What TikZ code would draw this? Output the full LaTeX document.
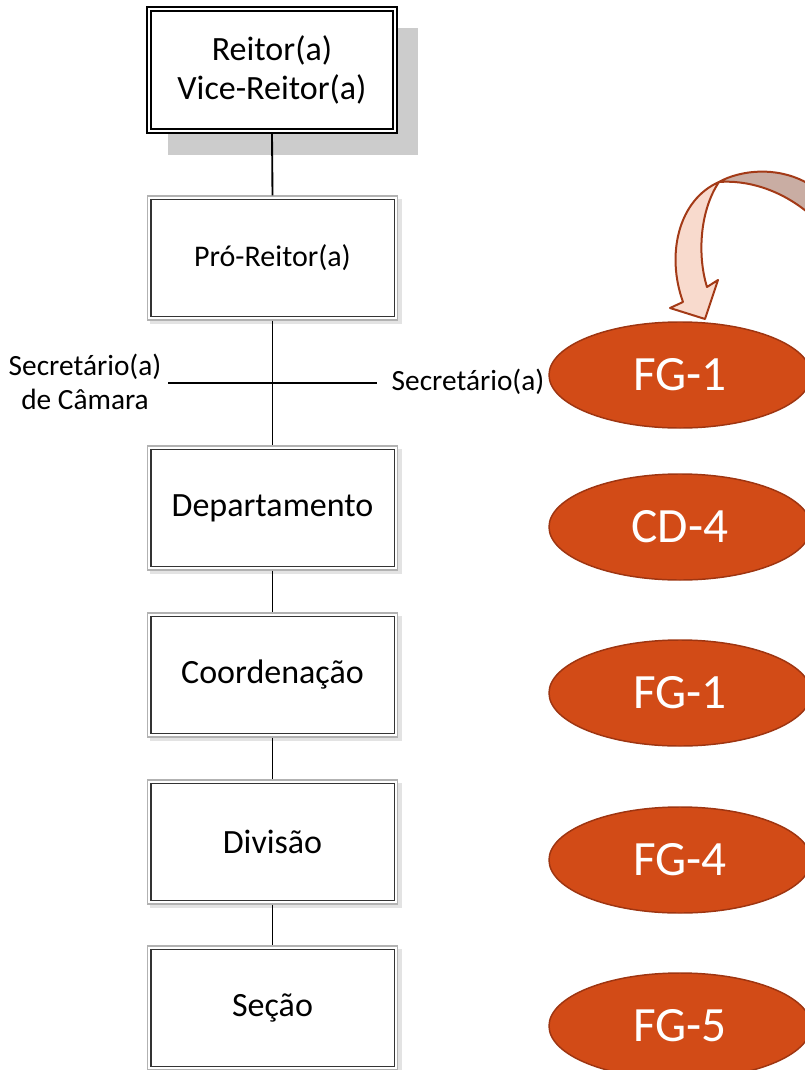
\documentclass[tikz,border=0pt]{standalone}
\usepackage{fontspec}
\setmainfont{Carlito}
\usetikzlibrary{shapes.geometric,backgrounds}
\definecolor{ellfill}{HTML}{D24B17}
\definecolor{elldraw}{HTML}{9E3511}
\definecolor{arrfront}{HTML}{F8DACD}
\definecolor{arrback}{HTML}{C9ADA3}
\definecolor{arrline}{HTML}{A33A17}
\definecolor{shadowgray}{HTML}{CCCCCC}
\begin{document}
\begin{tikzpicture}[x=0.75pt,y=-0.75pt,
  boxbase/.style={draw, fill=white, minimum width=187.5pt, minimum height=93pt, inner sep=0pt, align=center},
  topbox/.style={boxbase, draw=black, line width=1.5pt, minimum height=94.5pt, font=\fontsize{25.5}{29}\selectfont},
  orgbox/.style={boxbase, draw=gray!60, line width=1pt, font=\fontsize{25.5}{29}\selectfont},
  innerbox/.style={draw=gray!40!black, line width=1pt},
  conn/.style={draw=black, line width=1.4pt},
  grade/.style={ellipse, fill=ellfill, draw=elldraw, line width=1.1pt, minimum width=196.5pt, minimum height=79.5pt, inner sep=0pt, text=white, font=\fontsize{37}{37}\selectfont},
  lbl/.style={font=\fontsize{22}{26}\selectfont, align=center, inner sep=0pt},
  arr/.style={draw=arrline, line width=1.5pt, line join=round}
]
\useasboundingbox (0,0) rectangle (805,1070);
\clip (0,0) rectangle (805,1070);

% top box with shadow
\fill[shadowgray] (168,28) rectangle (418,155);
\node[topbox] (rei) at (272,70) {Reitor(a)\\Vice-Reitor(a)};
\draw[line width=1.3pt] ([shift={(4pt,-4pt)}]rei.north west) rectangle ([shift={(-4pt,4pt)}]rei.south east);

% chain of boxes
\node[orgbox, font=\fontsize{22.5}{26}\selectfont] (pro) at (272.5,258) {Pró-Reitor(a)};
\node[orgbox] (dep) at (272.5,508) {Departamento};
\node[orgbox] (coo) at (272.5,675) {Coordenação};
\node[orgbox] (div) at (272.5,842) {Divisão};
\node[orgbox] (sec) at (272.5,1008) {Seção};
\foreach \n in {pro,dep,coo,div,sec}
  \draw[innerbox] ([shift={(3pt,-3pt)}]\n.north west) rectangle ([shift={(-3pt,3pt)}]\n.south east);
\begin{scope}[on background layer]
\foreach \n in {pro,dep,coo,div,sec}
  \fill[gray!22] ([shift={(2.5pt,-2.5pt)}]\n.north west) rectangle ([shift={(2.5pt,-2.5pt)}]\n.south east);
\end{scope}

% connectors
\draw[conn] (rei.south) -- (pro.north);
\draw[conn] (pro.south) -- (dep.north);
\draw[conn] (dep.south) -- (coo.north);
\draw[conn] (coo.south) -- (div.north);
\draw[conn] (div.south) -- (sec.north);

% secretaries
\node[lbl] (secL) at (85,382) {Secretário(a)\\de Câmara};
\node[lbl] (secR) at (468,382) {Secretário(a)};
\coordinate (hl) at (168,383);
\coordinate (hr) at (377,383);
\draw[conn] (hl) -- (hr);

% grades
\node[grade] (g1) at (680,375) {FG-1};
\node[grade] (g2) at (680,527) {CD-4};
\node[grade] (g3) at (680,693) {FG-1};
\node[grade] (g4) at (680,860) {FG-4};
\node[grade] (g5) at (680,1026) {FG-5};

% curved block arrow
\filldraw[arr, fill=arrback] (719,182) .. controls (740,170) and (780,165) .. (812,186) -- (812,216) .. controls (780,188) and (745,180) .. (719,182) -- cycle;
\filldraw[arr, fill=arrfront] (719,182) .. controls (678,200) and (666,255) .. (683,302) -- (670,308) -- (705,319) -- (718,280) -- (707,287) .. controls (697,255) and (700,210) .. (719,182) -- cycle;
\end{tikzpicture}
\end{document}
